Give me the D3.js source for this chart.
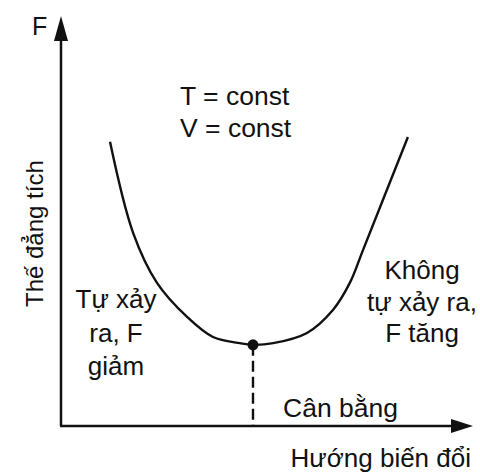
<!DOCTYPE html>
<html>
<head>
<meta charset="utf-8">
<script src="https://cdn.jsdelivr.net/npm/d3@7"></script>
<style>
  body { margin: 0; background: #fff; }
  svg text { font-family: "Liberation Sans", Arial, sans-serif; fill: #111; }
</style>
</head>
<body>
<div id="viz"></div>
<script>
// Curve F along the reaction coordinate (arbitrary units)
const curveX = [1.19, 1.75, 2.33, 3.06, 3.69, 4.34, 4.66, 5.15, 5.97, 6.60, 7.01, 7.33, 8.42];
const curveF = [6.93, 4.71, 3.49, 2.66, 2.17, 2.02, 1.98, 2.02, 2.27, 2.83, 3.49, 4.29, 7.05];
const equilibrium = [4.66, 1.98];

const yLabel = "Thế đẳng tích";
const xLabel = "Hướng biến đổi";
const conditions = ["T = const", "V = const"];
const leftNote = ["Tự xảy", "ra, F", "giảm"];
const rightNote = ["Không", "tự xảy ra,", "F tăng"];
const eqLabel = "Cân bằng";

const dims = { width: 480, height: 476 };

const svg = d3.select("#viz")
    .append("svg")
    .attr("width", dims.width)
    .attr("height", dims.height);

const xScale = d3.scaleLinear().domain([0, 10]).range([61, 473]);
const yScale = d3.scaleLinear().domain([0, 10]).range([426, 16]);

// axes
svg.append("line")
    .attr("x1", xScale(0)).attr("y1", yScale(0))
    .attr("x2", xScale(0)).attr("y2", yScale(0) - 385)
    .style("stroke", "#111").style("stroke-width", 2.5);
svg.append("path")
    .attr("d", `M${xScale(0)},${yScale(10)} L${xScale(0) - 7},${yScale(10) + 25} L${xScale(0) + 7},${yScale(10) + 25} Z`)
    .style("fill", "#111");

svg.append("line")
    .attr("x1", xScale(0) - 1).attr("y1", yScale(0))
    .attr("x2", xScale(10) - 20).attr("y2", yScale(0))
    .style("stroke", "#111").style("stroke-width", 2.5);
svg.append("path")
    .attr("d", `M${xScale(10)},${yScale(0)} L${xScale(10) - 22},${yScale(0) - 7} L${xScale(10) - 22},${yScale(0) + 7} Z`)
    .style("fill", "#111");

// F curve
const line = d3.line()
    .x(d => xScale(d[0]))
    .y(d => yScale(d[1]))
    .curve(d3.curveCatmullRom.alpha(0.5));

svg.append("path")
    .datum(d3.zip(curveX, curveF))
    .attr("d", line)
    .style("fill", "none")
    .style("stroke", "#111")
    .style("stroke-width", 2.4);

// equilibrium marker
svg.append("line")
    .attr("x1", xScale(equilibrium[0])).attr("y1", yScale(equilibrium[1]))
    .attr("x2", xScale(equilibrium[0])).attr("y2", yScale(0))
    .style("stroke", "#111").style("stroke-width", 2.4)
    .style("stroke-dasharray", "11,5");
svg.append("circle")
    .attr("cx", xScale(equilibrium[0]))
    .attr("cy", yScale(equilibrium[1]))
    .attr("r", 5.5)
    .style("fill", "#111");

// labels
svg.append("text")
    .attr("x", 32).attr("y", 35)
    .style("font-size", "25px")
    .text("F");

svg.append("text")
    .attr("transform", "translate(43,307) rotate(-90)")
    .style("font-size", "24px")
    .text(yLabel);

svg.append("text")
    .attr("x", 471).attr("y", 467)
    .attr("text-anchor", "end")
    .style("font-size", "26px")
    .text(xLabel);

svg.selectAll(".cond")
    .data(conditions)
    .join("text")
    .attr("class", "cond")
    .attr("x", 180)
    .attr("y", (d, i) => 105 + i * 32)
    .style("font-size", "26.5px")
    .text(d => d);

svg.selectAll(".left-note")
    .data(leftNote)
    .join("text")
    .attr("class", "left-note")
    .attr("x", 116)
    .attr("y", (d, i) => 308 + i * 33.5)
    .attr("text-anchor", "middle")
    .style("font-size", "26px")
    .text(d => d);

svg.selectAll(".right-note")
    .data(rightNote)
    .join("text")
    .attr("class", "right-note")
    .attr("x", 422)
    .attr("y", (d, i) => 279 + i * 31.5)
    .attr("text-anchor", "middle")
    .style("font-size", "26px")
    .text(d => d);

svg.append("text")
    .attr("x", 283).attr("y", 417)
    .style("font-size", "26.5px")
    .text(eqLabel);
</script>
</body>
</html>
